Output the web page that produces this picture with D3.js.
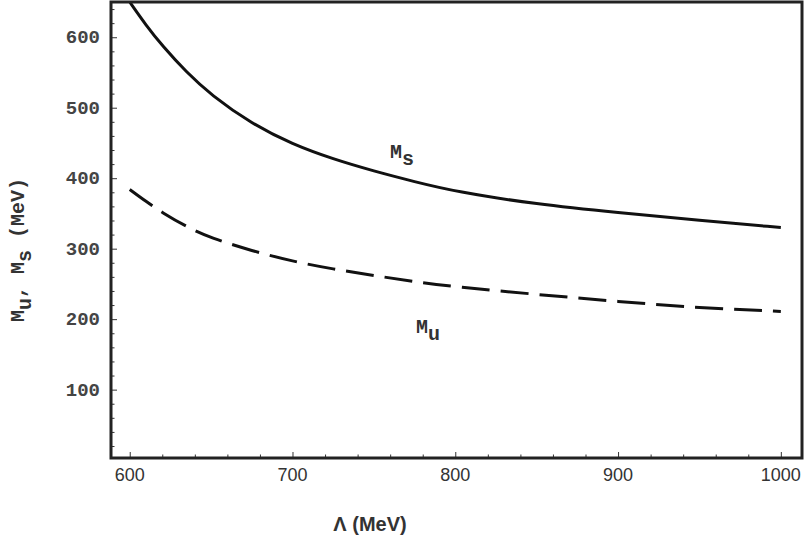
<!DOCTYPE html><html><head><meta charset="utf-8"><script src="https://d3js.org/d3.v7.min.js"></script>
<style>body{margin:0;background:#fff}</style></head><body><svg id="c" width="806" height="545"></svg>
<script>
const lambda=[600,610,620,635,650,675,700,725,750,775,800,850,900,950,1000];
const ms=[650,617,588,550,518,477,448,427,410,395,381,363,351,340,330];
const mu=[384,367,351,331,315,297,282,271,262,253,246,235,225,216,211];
const xTicks=[600,700,800,900,1000], yTicks=[100,200,300,400,500,600];
const svg=d3.select("#c");
const L=111,R=802,T=2,B=458;
const x=d3.scaleLinear().domain([588.5,1013]).range([L,R]);
const y=d3.scaleLinear().domain([3,650]).range([B,T]);
const g=svg.append("g");
const mono="'Liberation Mono',monospace";
g.append("g").attr("transform",`translate(0,${B})`).call(d3.axisBottom(x).tickValues(d3.range(600,1001,20)).tickSize(-6).tickFormat(""))
 .call(a=>{a.select(".domain").remove();a.selectAll("line").attr("stroke","#333").attr("stroke-width",1).filter(d=>d%100).attr("y2",-3.5);});
g.append("g").attr("transform",`translate(${L},0)`).call(d3.axisLeft(y).tickValues(d3.range(20,641,20)).tickSize(-6).tickFormat(""))
 .call(a=>{a.select(".domain").remove();a.selectAll("line").attr("stroke","#333").attr("stroke-width",1).filter(d=>d%100).attr("x2",3.5);});
g.selectAll(".xl").data(xTicks).join("text").attr("x",d=>x(d)).attr("y",B+23).attr("text-anchor","middle")
 .attr("font-family","'Liberation Sans',Arial").attr("font-size",18).attr("fill","#333").text(d=>d);
g.selectAll(".yl").data(yTicks).join("text").attr("x",L-11).attr("y",d=>y(d)+6).attr("text-anchor","end")
 .attr("font-family",mono).attr("font-weight","bold").attr("font-size",19).attr("fill","#444").text(d=>d);
svg.append("clipPath").attr("id","cp").append("rect").attr("x",L).attr("y",T).attr("width",R-L).attr("height",B-T);
const line=d3.line().x((d,i)=>x(lambda[i])).y(d=>y(d)).curve(d3.curveBasis);
g.append("path").attr("clip-path","url(#cp)").attr("d",line(ms)).attr("fill","none").attr("stroke","#111").attr("stroke-width",3);
g.append("path").attr("clip-path","url(#cp)").attr("d",line(mu)).attr("fill","none").attr("stroke","#111").attr("stroke-width",3).attr("stroke-dasharray","28,11");
g.append("rect").attr("x",L).attr("y",T).attr("width",R-L).attr("height",B-T).attr("fill","none").attr("stroke","#222").attr("stroke-width",3);
function lab(tx,ty,main,sub){const t=g.append("text").attr("x",tx).attr("y",ty).attr("font-family",mono).attr("font-weight","bold").attr("font-size",20).attr("fill","#333");
 t.append("tspan").text(main);t.append("tspan").attr("dy",7).text(sub);}
lab(390,158,"M","s");lab(416,333,"M","u");
g.append("text").attr("x",370).attr("y",531).attr("text-anchor","middle").attr("font-family","'Liberation Sans',Arial").attr("font-weight","bold").attr("font-size",20).attr("fill","#333").text("Λ (MeV)");
const yt=g.append("text").attr("transform","translate(24,250) rotate(-90)").attr("text-anchor","middle").attr("font-family",mono).attr("font-weight","bold").attr("font-size",20).attr("fill","#333");
yt.append("tspan").text("M");yt.append("tspan").attr("dy",7).text("u");yt.append("tspan").attr("dy",-7).text(", M");yt.append("tspan").attr("dy",7).text("s");yt.append("tspan").attr("dy",-7).text("  (MeV)");
</script></body></html>
